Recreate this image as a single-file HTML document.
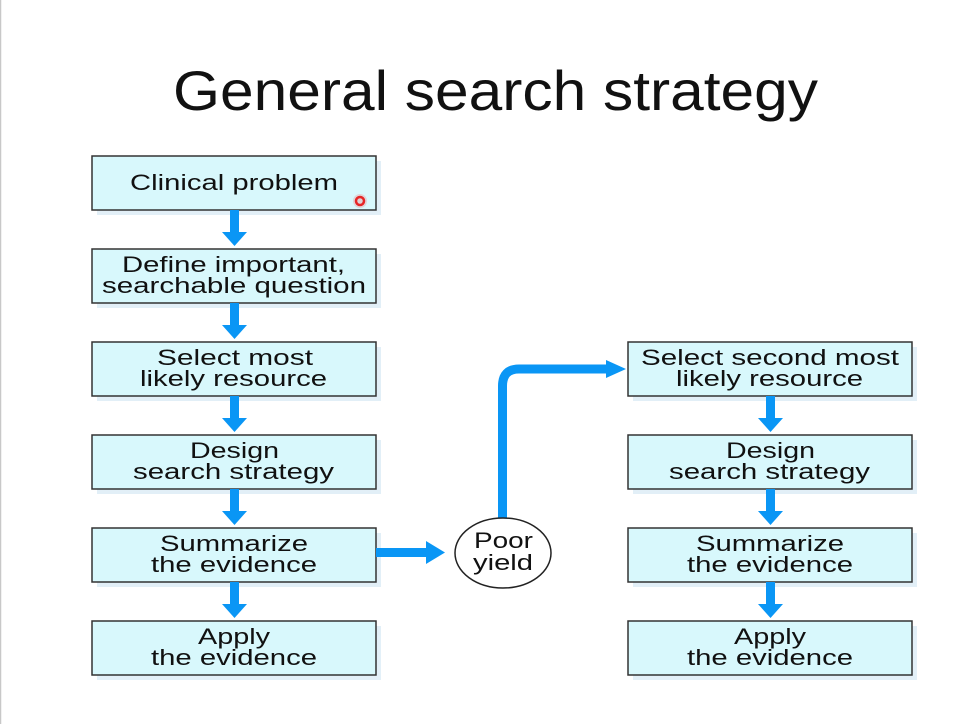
<!DOCTYPE html>
<html><head><meta charset="utf-8"><style>
html,body{margin:0;padding:0;background:#fff;}
svg{display:block;}
text{font-family:"Liberation Sans",sans-serif;fill:#111;}
</style></head><body>
<svg width="976" height="724" viewBox="0 0 976 724" xmlns="http://www.w3.org/2000/svg">
<rect x="0" y="0" width="976" height="724" fill="#fff"/>
<line x1="0.5" y1="0" x2="0.5" y2="724" stroke="#c8c8c8" stroke-width="1.5"/>
<text x="495.5" y="110" font-size="56" text-anchor="middle" textLength="645" lengthAdjust="spacingAndGlyphs">General search strategy</text>

<g fill="#dcecf6" opacity="0.8">
<rect x="97" y="161" width="284" height="54"/>
<rect x="97" y="254" width="284" height="54"/>
<rect x="97" y="347" width="284" height="54"/>
<rect x="97" y="440" width="284" height="54"/>
<rect x="97" y="533" width="284" height="54"/>
<rect x="97" y="626" width="284" height="54"/>
<rect x="633" y="347" width="284" height="54"/>
<rect x="633" y="440" width="284" height="54"/>
<rect x="633" y="533" width="284" height="54"/>
<rect x="633" y="626" width="284" height="54"/>
</g>
<g fill="#d8f8fc" stroke="#333" stroke-width="1.5">
<rect x="92" y="156" width="284" height="54"/>
<rect x="92" y="249" width="284" height="54"/>
<rect x="92" y="342" width="284" height="54"/>
<rect x="92" y="435" width="284" height="54"/>
<rect x="92" y="528" width="284" height="54"/>
<rect x="92" y="621" width="284" height="54"/>
<rect x="628" y="342" width="284" height="54"/>
<rect x="628" y="435" width="284" height="54"/>
<rect x="628" y="528" width="284" height="54"/>
<rect x="628" y="621" width="284" height="54"/>
</g>

<g fill="#0a96f5">
<rect x="230" y="210" width="9" height="24"/><polygon points="222,232 247,232 234.5,246"/>
<rect x="230" y="303" width="9" height="24"/><polygon points="222,325 247,325 234.5,339"/>
<rect x="230" y="396" width="9" height="24"/><polygon points="222,418 247,418 234.5,432"/>
<rect x="230" y="489" width="9" height="24"/><polygon points="222,511 247,511 234.5,525"/>
<rect x="230" y="582" width="9" height="24"/><polygon points="222,604 247,604 234.5,618"/>
<rect x="766" y="396" width="9" height="24"/><polygon points="758,418 783,418 770.5,432"/>
<rect x="766" y="489" width="9" height="24"/><polygon points="758,511 783,511 770.5,525"/>
<rect x="766" y="582" width="9" height="24"/><polygon points="758,604 783,604 770.5,618"/>
<rect x="376" y="548" width="52" height="9"/><polygon points="426,541 426,564 445,552.5"/>
<polygon points="606,360 606,378 626,369"/>
</g>
<path d="M502.5,520 L502.5,386 Q502.5,369 519,369 L608,369" fill="none" stroke="#0a96f5" stroke-width="9"/>

<ellipse cx="503" cy="553" rx="48" ry="35" fill="#fff" stroke="#222" stroke-width="1.5"/>
<g font-size="22" text-anchor="middle">
<text x="503.5" y="548" textLength="59" lengthAdjust="spacingAndGlyphs">Poor</text>
<text x="503" y="570" textLength="60" lengthAdjust="spacingAndGlyphs">yield</text>

<text x="234" y="190" textLength="208" lengthAdjust="spacingAndGlyphs">Clinical problem</text>
<text x="233.5" y="272" textLength="223" lengthAdjust="spacingAndGlyphs">Define important,</text>
<text x="234" y="293" textLength="264" lengthAdjust="spacingAndGlyphs">searchable question</text>
<text x="235" y="365" textLength="156" lengthAdjust="spacingAndGlyphs">Select most</text>
<text x="233.5" y="386" textLength="187" lengthAdjust="spacingAndGlyphs">likely resource</text>
<text x="234.5" y="458" textLength="89" lengthAdjust="spacingAndGlyphs">Design</text>
<text x="233.5" y="479" textLength="201" lengthAdjust="spacingAndGlyphs">search strategy</text>
<text x="234" y="551" textLength="148" lengthAdjust="spacingAndGlyphs">Summarize</text>
<text x="234" y="572" textLength="166" lengthAdjust="spacingAndGlyphs">the evidence</text>
<text x="234" y="644" textLength="72" lengthAdjust="spacingAndGlyphs">Apply</text>
<text x="234" y="665" textLength="166" lengthAdjust="spacingAndGlyphs">the evidence</text>

<text x="770" y="365" textLength="258" lengthAdjust="spacingAndGlyphs">Select second most</text>
<text x="769.5" y="386" textLength="187" lengthAdjust="spacingAndGlyphs">likely resource</text>
<text x="770.5" y="458" textLength="89" lengthAdjust="spacingAndGlyphs">Design</text>
<text x="769.5" y="479" textLength="201" lengthAdjust="spacingAndGlyphs">search strategy</text>
<text x="770" y="551" textLength="148" lengthAdjust="spacingAndGlyphs">Summarize</text>
<text x="770" y="572" textLength="166" lengthAdjust="spacingAndGlyphs">the evidence</text>
<text x="770" y="644" textLength="72" lengthAdjust="spacingAndGlyphs">Apply</text>
<text x="770" y="665" textLength="166" lengthAdjust="spacingAndGlyphs">the evidence</text>
</g>
<circle cx="360" cy="201" r="4" fill="none" stroke="#e02020" stroke-width="2.5"/>
<circle cx="360" cy="201" r="7" fill="#ff4040" opacity="0.2"/>
</svg>
</body></html>
